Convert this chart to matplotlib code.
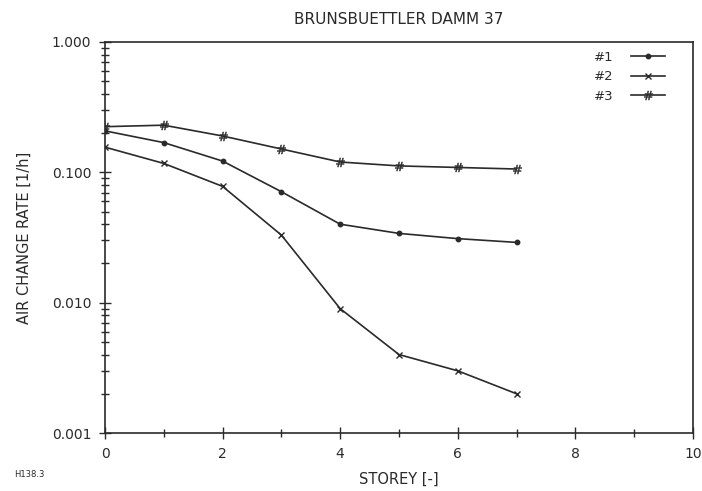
import matplotlib
matplotlib.use("Agg")
import matplotlib.pyplot as plt
from matplotlib.legend_handler import HandlerLine2D
from matplotlib.ticker import LogLocator, FixedLocator, NullFormatter

# storey numbers and measured air change rates [1/h]
storey = [0, 1, 2, 3, 4, 5, 6, 7]
rate_1 = [0.208, 0.169, 0.122, 0.071, 0.040, 0.034, 0.031, 0.029]
rate_2 = [0.156, 0.117, 0.078, 0.033, 0.0090, 0.0040, 0.0030, 0.0020]
rate_3 = [0.224, 0.230, 0.190, 0.151, 0.120, 0.112, 0.109, 0.106]
series_labels = ["#1", "#2", "#3"]
y_ticks = [0.001, 0.01, 0.1, 1.0]
y_tick_labels = ["0.001", "0.010", "0.100", "1.000"]
x_ticks = [0, 2, 4, 6, 8, 10]

ink = "#2a2a2a"
plt.rcParams["font.family"] = ["DejaVu Sans"]


class EndMarkerHandler(HandlerLine2D):
    # legend line with the symbol only at its right end
    def get_xdata(self, legend, xdescent, ydescent, width, height, fontsize):
        return [-xdescent, -xdescent + width], [-xdescent + width]


fig = plt.figure(figsize=(7.02, 4.91), dpi=100)
ax = fig.add_axes([0.1496, 0.1181, 0.8374, 0.7964])

l1, = ax.plot(storey, rate_1, color=ink, lw=1.2, marker="o", ms=3.2)
l2, = ax.plot(storey, rate_2, color=ink, lw=1.2, marker="x", ms=4.5, mew=1.0)
l3, = ax.plot(storey, rate_3, color=ink, lw=1.2, marker=r"$\#$", ms=6.5, mew=0.3)

ax.set_yscale("log")
ax.set_ylim(0.001, 1.0)
ax.set_xlim(0, 10)

ax.yaxis.set_major_locator(FixedLocator(y_ticks))
ax.set_yticklabels(y_tick_labels)
ax.yaxis.set_minor_locator(LogLocator(base=10, subs=range(2, 10)))
ax.yaxis.set_minor_formatter(NullFormatter())
ax.xaxis.set_major_locator(FixedLocator(x_ticks))
ax.xaxis.set_minor_locator(FixedLocator([1, 3, 5, 7, 9]))

ax.tick_params(which="major", direction="inout", length=8, width=1.0, color=ink,
               labelcolor=ink, labelsize=10, pad=6)
ax.tick_params(which="minor", direction="inout", length=6, width=1.0, color=ink)
ax.tick_params(top=False, right=False, which="both")
for sp in ax.spines.values():
    sp.set_color(ink)
    sp.set_linewidth(1.2)

ax.set_xlabel("STOREY [-]", color=ink, fontsize=10.5, labelpad=8)
ax.set_ylabel("AIR CHANGE RATE [1/h]", color=ink, fontsize=10.5, labelpad=14)
ax.set_title("BRUNSBUETTLER DAMM 37", color=ink, fontsize=11, pad=13)

leg = ax.legend([l1, l2, l3], series_labels, loc="upper right", frameon=False,
                bbox_to_anchor=(0.982, 1.022),
                markerfirst=False, handlelength=2.6, handletextpad=1.3,
                labelspacing=0.5, fontsize=9.5, borderaxespad=0.9,
                handler_map={l1: EndMarkerHandler(), l2: EndMarkerHandler(),
                             l3: EndMarkerHandler()})
for t in leg.get_texts():
    t.set_color(ink)

fig.text(0.02, 0.028, "H138.3", fontsize=6, color=ink)

fig.savefig("out.png", dpi=100)
